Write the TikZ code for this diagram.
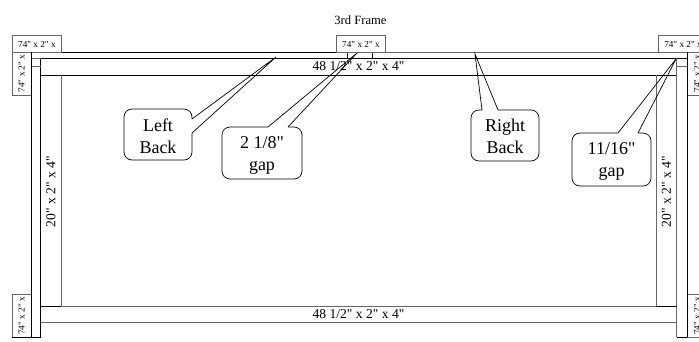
\documentclass[tikz,border=0pt]{standalone}
\usepackage{fontspec}
\newfontfamily\tm{Liberation Serif}
\definecolor{gr}{gray}{0.4}
\tikzset{
  ln/.style={draw=black,line width=0.9pt},
  gl/.style={draw=gr,line width=0.9pt},
  hstud/.style={draw=gr,line width=0.9pt,fill=white,minimum width=49pt,minimum height=17pt,inner sep=0pt,anchor=north west,font=\tm\fontsize{9.2}{10}\selectfont},
  vstud/.style={draw=gr,line width=0.9pt,fill=white,minimum width=43pt,minimum height=19pt,inner sep=0pt,rotate=90,font=\tm\fontsize{9.2}{10}\selectfont},
  dim/.style={inner sep=0pt,font=\tm\fontsize{13.6}{15}\selectfont},
  ctext/.style={inner sep=0pt,align=center,font=\tm\fontsize{18}{22}\selectfont},
  callout/.style={draw=black,line width=0.7pt},
  calloutbox/.style={callout,rounded corners=8pt}
}
\begin{document}
\begin{tikzpicture}[x=1pt,y=-1pt]
\useasboundingbox (0,0) rectangle (699,341);
\clip (0,0) rectangle (699,341);
% timber lines
\draw[ln] (31,52.5) -- (336,52.5);
\draw[gl] (385,52) -- (687,52);
\draw[ln] (40.5,58) -- (687,58);
\draw[ln] (40.5,75.3) -- (676,75.3);
\draw[ln] (40.5,58) -- (40.5,337);
\draw[gl] (61,75) -- (61,306);
\draw[gl] (31,58) -- (40.5,58);
\draw[gl] (31,66.7) -- (40.5,66.7);
\draw[gl] (676,66.7) -- (687,66.7);
\draw[ln] (40.5,306) -- (61,306);
\draw[gl] (61,306) -- (656,306);
\draw[gl] (40.5,322.7) -- (677,322.7);
\draw[gl] (676.5,58) -- (676.5,337);
\draw[gl] (656,75) -- (656,306);
\draw[ln] (656,306) -- (676.5,306);
\draw[ln] (676.5,337) -- (699,337);
\draw[ln] (347.5,52) -- (347.5,58);
\draw[ln] (372.5,52) -- (372.5,58);
% stud labels
\node[hstud] (tl) at (12,35) {74" x 2" x};
\node[hstud] (tc) at (336,35) {74" x 2" x};
\node[hstud] (tr) at (658,35) {74" x 2" x};
\node[vstud] (vl) at (21.5,73.5) {74" x 2" x};
\node[vstud] (vb) at (21.5,316) {74" x 2" x};
\node[vstud] (vr) at (697,73.5) {74" x 2" x};
\node[vstud] (vs) at (697,316) {74" x 2" x};
\draw[ln] (31,52) -- (31,337);
\draw[ln] (12,337) -- (40.5,337);
\draw[ln] (687.5,52) -- (687.5,337);
% dimensions
\node[dim] (a) at (358.5,66.5) {48 1/2" x 2" x 4"};
\node[dim] (b) at (358.5,314.5) {48 1/2" x 2" x 4"};
\node[dim,rotate=90] (c) at (51,191.5) {20" x 2" x 4"};
\node[dim,rotate=90] (d) at (666.5,191.5) {20" x 2" x 4"};
\node[inner sep=0pt,font=\tm\fontsize{12.6}{14}\selectfont] (title) at (360.5,20.5) {3rd Frame};
% callouts
\draw[callout] (192,119) -- (276,57) -- (192,133);
\draw[calloutbox] (192,133) -- (192,160) -- (124,160) -- (124,109) -- (192,109) -- (192,119);
\node[ctext] (n1) at (158,136) {Left\\Back};
\draw[callout] (268,127) -- (357,53) -- (288,127);
\draw[calloutbox] (288,127) -- (302,127) -- (302,179) -- (222,179) -- (222,127) -- (268,127);
\node[ctext] (n2) at (262,155) {2 1/8"\\gap};
\draw[callout] (482,110) -- (475,54) -- (498,110);
\draw[calloutbox] (498,110) -- (539,110) -- (539,161) -- (471,161) -- (471,110) -- (482,110);
\node[ctext] (n3) at (505,136.5) {Right\\Back};
\draw[callout] (618,133) -- (676,59) -- (638,133);
\draw[calloutbox] (638,133) -- (651,133) -- (651,186) -- (572,186) -- (572,133) -- (618,133);
\node[ctext] (n4) at (611.5,161.5) {11/16"\\gap};
\end{tikzpicture}
\end{document}
